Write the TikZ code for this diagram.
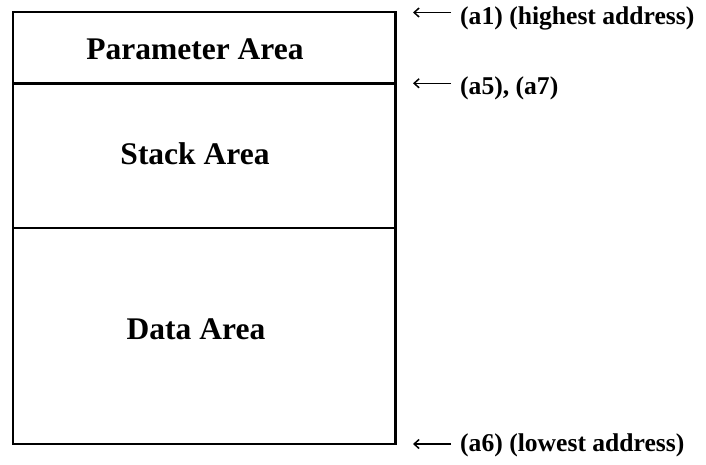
\documentclass[tikz,border=0pt]{standalone}
\usepackage{fontspec}
\setmainfont{Liberation Serif}
\usetikzlibrary{arrows.meta}
\tikzset{
  area/.style={draw=black, line width=2.4pt},
  arealabel/.style={anchor=base, inner sep=0pt, font=\fontsize{31.5}{36}\selectfont\bfseries},
  addrlabel/.style={anchor=base west, inner sep=0pt, font=\fontsize{25.6}{30}\selectfont\bfseries},
  pointer/.style={line width=1.5pt, -{Straight Barb[length=5pt,width=9pt]}}
}
\begin{document}
\begin{tikzpicture}[x=1pt,y=-1pt]
\useasboundingbox (0,0) rectangle (706,464);
% areas
\draw[area] (13,12) rectangle (395.5,444);
\draw[area] (13,83.5) -- (395.5,83.5);
\draw[area] (13,228) -- (395.5,228);
\node[arealabel] (param) at (195,59) {Parameter Area};
\node[arealabel] (stack) at (195,164.5) {Stack Area};
\node[arealabel] (data) at (196,339.5) {Data Area};
% address labels
\node[addrlabel] (a1) at (460,24) {(a1) (highest address)};
\node[addrlabel] (a5) at (460,94) {(a5), (a7)};
\node[addrlabel] (a6) at (460,451.5) {(a6) (lowest address)};
% pointer ends
\coordinate (s1) at (451,12.5);
\coordinate (e1) at (413,12.5);
\coordinate (s5) at (451,83.3);
\coordinate (e5) at (413,83.3);
\coordinate (s6) at (451,444);
\coordinate (e6) at (413,444);
\draw[pointer] (s1) -- (e1);
\draw[pointer] (s5) -- (e5);
\draw[pointer] (s6) -- (e6);
\end{tikzpicture}
\end{document}
